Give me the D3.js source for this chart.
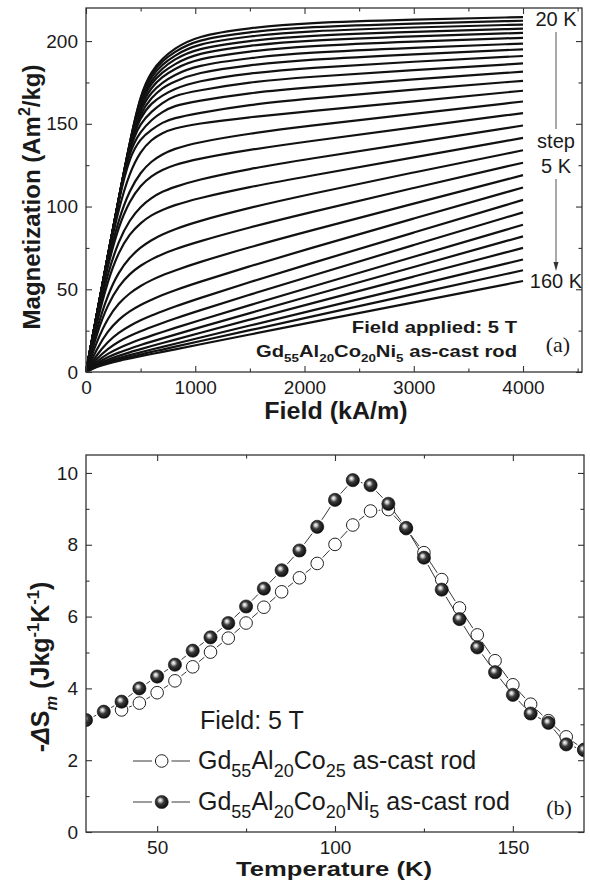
<!DOCTYPE html>
<html>
<head>
<meta charset="utf-8">
<script src="https://cdn.jsdelivr.net/npm/d3@7"></script>
<style>
  body { margin: 0; background: #fff; }
  text { font-family: "Liberation Sans", Arial, sans-serif; fill: #1a1a1a; }
</style>
</head>
<body>
<svg id="chart"></svg>
<script>
// ---- panel (a): M(H) isotherms, 20 K .. 160 K, step 5 K
const fieldGrid = [0, 100, 200, 300, 400, 500, 600, 700, 800, 1000, 1500, 2000, 3000, 4000];
const isoTemps = [20, 25, 30, 35, 40, 45, 50, 55, 60, 65, 70, 75, 80, 85, 90,
                  95, 100, 105, 110, 115, 120, 125, 130, 135, 140, 145, 150, 155, 160];
const magCurves = [
  [0, 35, 69.8, 104.7, 138.6, 168.5, 182, 189.5, 195, 203, 208, 211, 213, 214.5],
  [0, 35.1, 70.2, 105, 139, 167.8, 180.8, 188.1, 193, 200.8, 205.6, 208.5, 210.7, 212.3],
  [0, 35.1, 70.3, 105, 138.9, 166.5, 179, 186, 190.8, 198.3, 203.1, 206, 208.3, 210],
  [0, 35.2, 70.2, 105, 138.4, 165, 176.8, 183.6, 188.6, 195.5, 200.3, 203.3, 205.6, 207.5],
  [0, 35.2, 70.4, 104.8, 138.3, 163.5, 174.9, 181.2, 185.7, 192.6, 197.4, 200.3, 202.9, 205],
  [0, 35.2, 70.4, 104.8, 138, 161.4, 172.3, 178.5, 182.8, 189.2, 193.9, 197, 199.8, 202],
  [0, 35.2, 70.5, 104.8, 137.6, 159.4, 169.3, 175, 179.2, 185.2, 189.9, 193, 196, 198.5],
  [0, 35.3, 70.5, 104.7, 137.3, 157.2, 165.9, 171.9, 175.3, 180.8, 185.6, 188.7, 192.1, 195],
  [0, 35.3, 70.5, 104.4, 137, 154.7, 162.6, 167.2, 170.8, 175.7, 180.7, 183.7, 187.6, 191],
  [0, 35.4, 70.7, 103.9, 136.3, 150.8, 157.5, 162.7, 166.9, 169.9, 175.3, 178.2, 182.5, 186.5],
  [0, 35, 70, 105, 134.2, 145.5, 152.6, 157.2, 160.8, 163.6, 168.8, 171.8, 176.9, 181.5],
  [0, 35, 70, 104.5, 130.4, 141.2, 146.4, 150.9, 153.4, 156.2, 161.7, 164.9, 170.7, 176],
  [0, 35, 69.1, 99.1, 120.7, 133.5, 140.6, 144.6, 147.1, 150, 154.1, 157.3, 163.6, 170],
  [0, 34.8, 67.1, 92.6, 110, 120.8, 127.5, 131.7, 134.7, 138.6, 144.2, 148.5, 156, 163.5],
  [0, 33.8, 64.6, 88.3, 103.6, 112.9, 118.6, 122.3, 125, 128.6, 134.4, 139.1, 147.9, 156.5],
  [0, 32.4, 60, 79.5, 92, 100.1, 105.3, 109.1, 111.6, 115.9, 122.9, 128.4, 138.6, 149],
  [0, 30.3, 55.5, 72.8, 83.5, 90.2, 94.9, 98, 100.6, 104.6, 111.9, 118, 129.7, 141.5],
  [0, 26.7, 47, 60.6, 69.3, 75.4, 79.8, 83.2, 86, 90.7, 99.4, 106.8, 120.7, 134],
  [0, 23.7, 41, 52.1, 59.4, 64.4, 68.2, 71.3, 73.9, 78.3, 87.5, 95.7, 111.3, 126.5],
  [0, 18.9, 32.7, 41.7, 47.7, 52.2, 55.6, 58.6, 61, 65.7, 75.5, 84.5, 101.8, 119],
  [0, 14.2, 24.8, 31.8, 36.8, 40.6, 43.7, 46.6, 49.1, 53.7, 64, 73.8, 92.8, 111.5],
  [0, 10.6, 18.4, 23.9, 27.9, 31.3, 34.2, 36.7, 39.2, 43.8, 54.4, 64.5, 84.3, 104],
  [0, 8.2, 14.1, 18.5, 21.8, 24.7, 27.2, 29.7, 32, 36.4, 46.8, 56.8, 76.8, 96.5],
  [0, 6.5, 11.2, 14.5, 17.3, 19.8, 22, 24.2, 26.3, 30.5, 40.4, 50.3, 69.6, 89],
  [0, 5.4, 9, 11.8, 14.1, 16.4, 18.4, 20.3, 22.3, 26.2, 35.6, 45, 63.5, 82],
  [0, 4.6, 7.5, 9.8, 11.9, 13.8, 15.7, 17.5, 19.3, 22.8, 31.7, 40.3, 57.7, 75],
  [0, 3.9, 6.5, 8.4, 10.2, 11.9, 13.6, 15.2, 16.8, 20.1, 28.1, 36.1, 52, 68],
  [0, 3.6, 5.7, 7.4, 9, 10.6, 12.2, 13.5, 15.1, 18, 25.3, 32.5, 47.1, 61.5],
  [0, 3.2, 5.1, 6.8, 8.2, 9.6, 10.9, 12.2, 13.5, 16.1, 22.7, 29.2, 42.1, 55]
];
const fieldTicks = [0, 1000, 2000, 3000, 4000];
const fieldMinor = [500, 1500, 2500, 3500, 4500];
const magTicks = [0, 50, 100, 150, 200];
const magMinor = [25, 75, 125, 175];

// ---- panel (b): -dS_m vs T
const tempsB = [30, 35, 40, 45, 50, 55, 60, 65, 70, 75, 80, 85, 90, 95, 100,
                105, 110, 115, 120, 125, 130, 135, 140, 145, 150, 155, 160, 165, 170];
const dsCo25 = [null, null, 3.40, 3.59, 3.88, 4.21, 4.60, 5.01, 5.40, 5.82, 6.26, 6.69, 7.08, 7.48, 8.01,
                8.55, 8.94, 8.98, 8.45, 7.78, 7.03, 6.24, 5.49, 4.77, 4.10, 3.56, 3.10, 2.65, 2.30];
const dsNi5 = [3.12, 3.35, 3.63, 4.00, 4.33, 4.66, 5.05, 5.42, 5.82, 6.28, 6.78, 7.29, 7.84, 8.50, 9.25,
               9.80, 9.66, 9.14, 8.47, 7.64, 6.75, 5.93, 5.14, 4.45, 3.82, 3.30, 3.04, 2.44, 2.28];
const tempTicks = [50, 100, 150];
const tempMinor = [75, 125];
const dsTicks = [0, 2, 4, 6, 8, 10];
const dsMinor = [1, 3, 5, 7, 9];

const svg = d3.select("#chart").attr("width", 590).attr("height", 884);

const defs = svg.append("defs");
const grad = defs.append("radialGradient").attr("id", "ball")
  .attr("cx", "45%").attr("cy", "45%").attr("r", "60%")
  .attr("fx", "38%").attr("fy", "35%");
grad.append("stop").attr("offset", "0%").attr("stop-color", "#ffffff");
grad.append("stop").attr("offset", "18%").attr("stop-color", "#c8c8c8");
grad.append("stop").attr("offset", "45%").attr("stop-color", "#3a3a3a");
grad.append("stop").attr("offset", "100%").attr("stop-color", "#050505");

// text made of normal / sub / sup pieces
function rich(sel, parts, size, small) {
  small = small || 0.66;
  let shift = 0;
  parts.forEach(p => {
    const [t, mode, style] = p;
    const target = mode === 1 ? size * 0.3 : mode === 2 ? -size * 0.42 : 0;
    const ts = sel.append("tspan").text(t)
      .attr("dy", target - shift)
      .attr("font-size", mode ? size * small : size);
    if (style) ts.attr("font-style", style);
    shift = target;
  });
  return sel;
}

// bold labels of the original are wider than Liberation Sans Bold: stretch them
function wideText(g, x, y, k, anchor) {
  return g.append("text").attr("transform", `translate(${x},${y}) scale(${k},1)`)
    .attr("text-anchor", anchor).attr("font-weight", "bold");
}

function drawAxes(g, x, y, xt, xm, yt, ym, xPad) {
  const [xl, xr] = x.range();
  const [yb, ytop] = y.range();
  const put = (axis, tr) => g.append("g").attr("transform", tr).call(axis)
    .call(a => a.select(".domain").remove())
    .attr("color", "#333")
    .call(a => a.selectAll("line").attr("stroke-width", 1.1))
    .call(a => a.selectAll("text").attr("font-size", 19).attr("font-family", null));
  const noLab = () => "";
  put(d3.axisBottom(x).tickValues(xt).tickSize(-6).tickPadding(xPad).tickFormat(d3.format("d")), `translate(0,${yb})`);
  put(d3.axisBottom(x).tickValues(xm).tickSize(-3.5).tickFormat(noLab), `translate(0,${yb})`);
  put(d3.axisTop(x).tickValues(xt).tickSize(-6).tickFormat(noLab), `translate(0,${ytop})`);
  put(d3.axisTop(x).tickValues(xm).tickSize(-3.5).tickFormat(noLab), `translate(0,${ytop})`);
  put(d3.axisLeft(y).tickValues(yt).tickSize(-6).tickPadding(8).tickFormat(d3.format("d")), `translate(${xl},0)`);
  put(d3.axisLeft(y).tickValues(ym).tickSize(-3.5).tickFormat(noLab), `translate(${xl},0)`);
  put(d3.axisRight(y).tickValues(yt).tickSize(-6).tickFormat(noLab), `translate(${xr},0)`);
  put(d3.axisRight(y).tickValues(ym).tickSize(-3.5).tickFormat(noLab), `translate(${xr},0)`);
  g.append("rect").attr("x", xl).attr("y", ytop).attr("width", xr - xl).attr("height", yb - ytop)
    .attr("fill", "none").attr("stroke", "#333").attr("stroke-width", 1.3);
}

// ================= panel (a)
const xa = d3.scaleLinear().domain([0, 4540]).range([86, 582]);
const ya = d3.scaleLinear().domain([0, 220]).range([372, 8]);
const ga = svg.append("g");

const lineA = d3.line()
  .x((d, i) => xa(fieldGrid[i]))
  .y(d => ya(d))
  .curve(d3.curveBasis);

ga.append("g").selectAll("path").data(magCurves).join("path")
  .attr("d", lineA)
  .attr("fill", "none").attr("stroke", "#111").attr("stroke-width", 2.2)
  .attr("stroke-linejoin", "round");

drawAxes(ga, xa, ya, fieldTicks, fieldMinor, magTicks, magMinor, 9);

wideText(ga, 336, 419, 1.09, "middle").attr("font-size", 23).text("Field (kA/m)");
rich(ga.append("text").attr("transform", "translate(40,197) rotate(-90)")
  .attr("text-anchor", "middle").attr("font-weight", "bold"),
  [["Magnetization (Am", 0], ["2", 2], ["/kg)", 0]], 24);

// temperature annotation
const annX = 556;
ga.append("text").attr("x", annX).attr("y", 26).attr("text-anchor", "middle").attr("font-size", 20)
  .text(isoTemps[0] + " K");
ga.append("text").attr("x", annX).attr("y", 148).attr("text-anchor", "middle").attr("font-size", 20).text("step");
ga.append("text").attr("x", annX).attr("y", 173).attr("text-anchor", "middle").attr("font-size", 20).text("5 K");
ga.append("text").attr("x", annX).attr("y", 288).attr("text-anchor", "middle").attr("font-size", 20)
  .text(isoTemps[isoTemps.length - 1] + " K");
ga.append("line").attr("x1", annX).attr("x2", annX).attr("y1", 32).attr("y2", 129)
  .attr("stroke", "#555").attr("stroke-width", 1);
ga.append("line").attr("x1", annX).attr("x2", annX).attr("y1", 179).attr("y2", 264)
  .attr("stroke", "#555").attr("stroke-width", 1);
ga.append("path").attr("d", `M${annX - 2.5},262 L${annX},271 L${annX + 2.5},262 Z`).attr("fill", "#333");

wideText(ga, 517, 333, 1.19, "end").attr("font-size", 17).text("Field applied: 5 T");
rich(wideText(ga, 517, 357, 1.19, "end"),
  [["Gd", 0], ["55", 1], ["Al", 0], ["20", 1], ["Co", 0], ["20", 1], ["Ni", 0], ["5", 1], [" as-cast rod", 0]], 17);
ga.append("text").attr("x", 558).attr("y", 352).attr("text-anchor", "middle")
  .attr("font-size", 22).style("font-family", "'Liberation Serif', 'Times New Roman', serif").text("(a)");

// ================= panel (b)
const xb = d3.scaleLinear().domain([30, 170]).range([86, 584]);
const yb = d3.scaleLinear().domain([0, 10.5]).range([832, 455]);
const gb = svg.append("g");
defs.append("clipPath").attr("id", "clipb").append("rect")
  .attr("x", 86).attr("y", 455).attr("width", 498).attr("height", 377);

const rOpen = 6.3, rBall = 6.6;
// connecting lines stop short of the symbols
function gapSegments(vals, gap) {
  const pts = tempsB.map((t, i) => vals[i] == null ? null : [xb(t), yb(vals[i])]);
  const segs = [];
  for (let i = 1; i < pts.length; i++) {
    const a = pts[i - 1], b = pts[i];
    if (!a || !b) continue;
    const dx = b[0] - a[0], dy = b[1] - a[1], len = Math.hypot(dx, dy);
    if (len <= 2 * gap) continue;
    const ux = dx / len, uy = dy / len;
    segs.push([a[0] + ux * gap, a[1] + uy * gap, b[0] - ux * gap, b[1] - uy * gap]);
  }
  return segs;
}

const plotB = gb.append("g").attr("clip-path", "url(#clipb)");
[[dsCo25, rOpen], [dsNi5, rBall]].forEach(([vals, r]) => {
  plotB.append("g").selectAll("line").data(gapSegments(vals, r + 1.8)).join("line")
    .attr("x1", d => d[0]).attr("y1", d => d[1]).attr("x2", d => d[2]).attr("y2", d => d[3])
    .attr("stroke", "#222").attr("stroke-width", 0.9);
});
plotB.append("g").selectAll("circle").data(tempsB.filter((t, i) => dsCo25[i] != null)).join("circle")
  .attr("cx", t => xb(t)).attr("cy", t => yb(dsCo25[tempsB.indexOf(t)])).attr("r", rOpen)
  .attr("fill", "#fff").attr("stroke", "#222").attr("stroke-width", 1);
plotB.append("g").selectAll("circle").data(tempsB).join("circle")
  .attr("cx", t => xb(t)).attr("cy", (t, i) => yb(dsNi5[i])).attr("r", rBall)
  .attr("fill", "url(#ball)").attr("stroke", "#111").attr("stroke-width", 0.6);

drawAxes(gb, xb, yb, tempTicks, tempMinor, dsTicks, dsMinor, 8.5);

wideText(gb, 334, 876, 1.22, "middle").attr("font-size", 21).text("Temperature (K)");
rich(gb.append("text").attr("transform", "translate(49,667) rotate(-90)")
  .attr("text-anchor", "middle").attr("font-weight", "bold"),
  [["-", 0], ["\u0394", 0, "italic"], ["S", 0], ["m", 1, "italic"], [" (Jkg", 0], ["-1", 2], ["K", 0], ["-1", 2], [")", 0]], 25);

// legend
gb.append("text").attr("x", 200).attr("y", 729).attr("font-size", 25).text("Field: 5 T");
const legRows = [
  { y: 761, filled: false, parts: [["Gd", 0], ["55", 1], ["Al", 0], ["20", 1], ["Co", 0], ["25", 1], [" as-cast rod", 0]] },
  { y: 802, filled: true, parts: [["Gd", 0], ["55", 1], ["Al", 0], ["20", 1], ["Co", 0], ["20", 1], ["Ni", 0], ["5", 1], [" as-cast rod", 0]] }
];
legRows.forEach(r => {
  [[133, 152], [171.5, 190]].forEach(([a, b]) => {
    gb.append("line").attr("x1", a).attr("x2", b).attr("y1", r.y).attr("y2", r.y)
      .attr("stroke", "#222").attr("stroke-width", 0.9);
  });
  gb.append("circle").attr("cx", 161.7).attr("cy", r.y).attr("r", r.filled ? rBall : rOpen)
    .attr("fill", r.filled ? "url(#ball)" : "#fff").attr("stroke", "#222").attr("stroke-width", r.filled ? 0.6 : 1);
  rich(gb.append("text").attr("x", 198).attr("y", r.y + 8), r.parts, 25, 0.72);
});
gb.append("text").attr("x", 559).attr("y", 815).attr("text-anchor", "middle")
  .attr("font-size", 22).style("font-family", "'Liberation Serif', 'Times New Roman', serif").text("(b)");
</script>
</body>
</html>
